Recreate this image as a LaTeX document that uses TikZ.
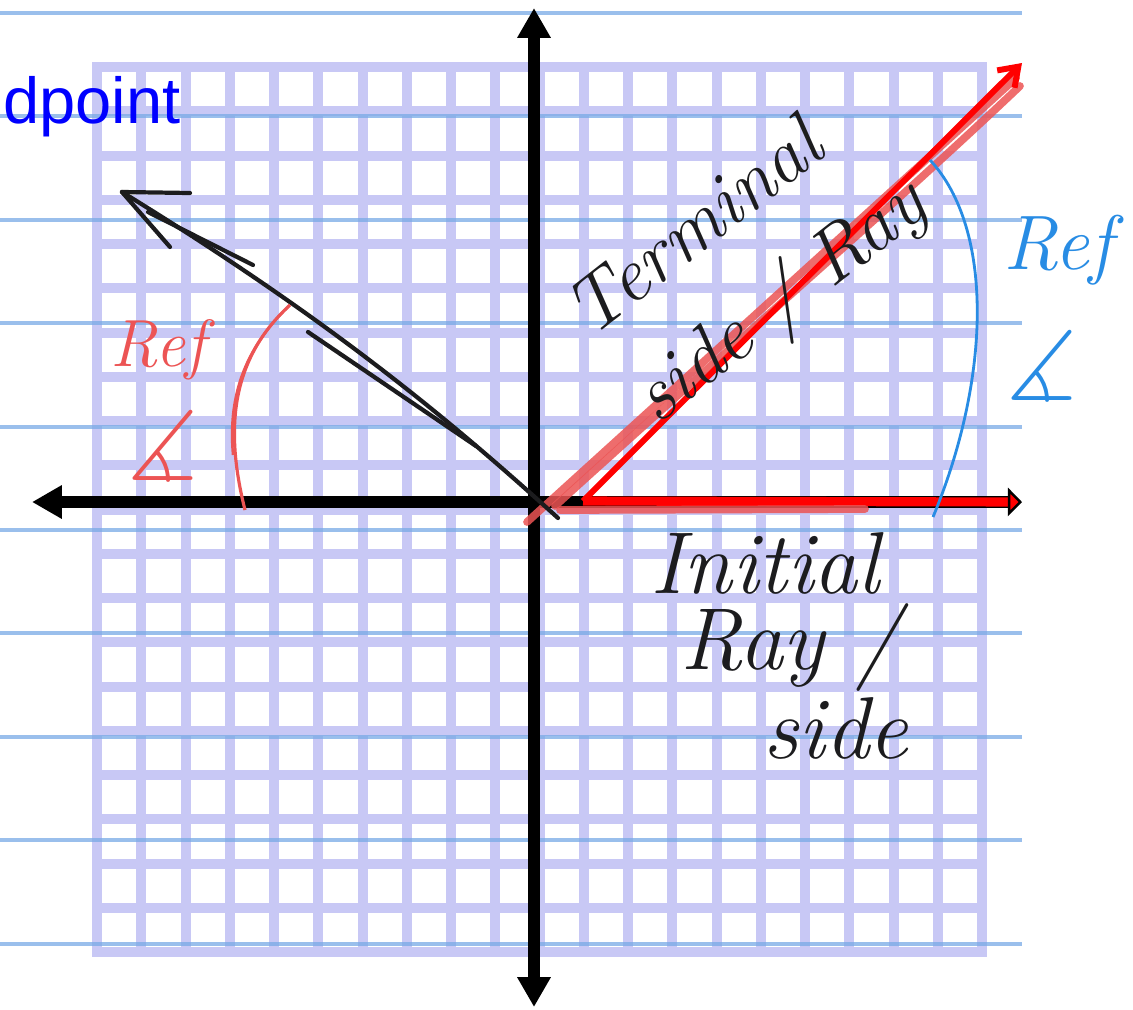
\documentclass[tikz,border=0pt]{standalone}
\usepackage{fontspec}
\usepackage{amssymb}
\newfontfamily\textosans{Liberation Sans}
\usetikzlibrary{arrows.meta}

\definecolor{lavanda}{RGB}{200,200,245}
\definecolor{pautaazul}{RGB}{120,170,230}
\definecolor{salmao}{RGB}{236,84,84}
\definecolor{azulref}{RGB}{40,140,228}
\definecolor{tinta}{RGB}{28,28,30}

\begin{document}
\begin{tikzpicture}[
    x=0.02cm, y=-0.02cm,
    >=Latex,
    pauta/.style={draw=pautaazul, line width=2.2pt, opacity=0.75},
    eixo/.style={draw=black, line width=6.8pt},
    ponta/.tip={Triangle[length=17pt, width=18pt]},
    traco/.style={draw=tinta, line width=2.4pt, line cap=round},
    marca/.style={draw=salmao, line width=4.4pt, opacity=0.85, line cap=round},
    mao/.style={font=\fontsize{44}{48}\selectfont\itshape, text=tinta, inner sep=0pt},
    maior/.style={mao, font=\fontsize{50}{54}\selectfont\itshape},
    angulo/.style={inner sep=0pt, font=\fontsize{56}{60}\selectfont}
]

    \useasboundingbox (0,0) rectangle (1133,1009);

    % Papel quadriculado
    \fill[lavanda] (92,62) rectangle (987,957);
    \foreach \i in {0,...,19}
        \foreach \j in {0,...,19}
            \fill[white] ({102+44.25*\i},{72+44.25*\j}) rectangle +(34.25,34.25);

    % Linhas do caderno
    \foreach \k in {0,...,9}
        \draw[pauta] (0,{13+103.4*\k}) -- (1022,{13+103.4*\k});

    % Pontos de referencia
    \coordinate (O) at (534,502);
    \coordinate (esq) at (32,502);
    \coordinate (dirEixo) at (1012,502);
    \coordinate (topo) at (534,8);
    \coordinate (base) at (534,1007);
    \coordinate (ini) at (583,501);
    \coordinate (X) at (1022,502);
    \coordinate (T) at (1022,63);
    \coordinate (Q) at (122,192);
    \coordinate (fimQ) at (558,518);

    % Eixos
    \draw[eixo, ponta-] (esq) -- (dirEixo);
    \draw[eixo, ponta-ponta] (topo) -- (base);

    % Lado inicial e lado terminal
    \draw[red, line width=5.2pt, -{Triangle[length=8pt, width=16pt, color=black, fill=red, line width=1.4pt]}] (ini) -- (X);
    \draw[marca] (560,510) -- (865,509);
    \draw[marca] (527,522) -- (1016,78);
    \draw[marca] (555,506) .. controls (760,320) and (900,200) .. (1020,86);
    \draw[red, line width=3.4pt, -{Straight Barb[length=10pt, width=14pt]}] (ini) -- (T);

    % Raio do segundo quadrante
    \draw[traco] (Q) .. controls (330,320) and (450,420) .. (fimQ);
    \draw[traco] (148,212) -- (253,265);
    \draw[traco] (308,332) -- (476,446);
    \draw[traco] (Q) -- (190,193);
    \draw[traco] (Q) -- (170,247);

    % Arcos dos angulos de referencia
    \draw[draw=salmao, line width=1.8pt] (245,510) .. controls (225,430) and (230,360) .. (290,305);
    \draw[draw=salmao, line width=1.4pt] (290,305) .. controls (242,350) and (228,400) .. (233,455);
    \draw[draw=azulref, line width=1.6pt] (933,517) .. controls (990,380) and (995,230) .. (930,160);

    % Textos
    \node[font=\textosans\fontsize{37}{40}\selectfont, text=blue, anchor=base west, inner sep=0pt] (dpoint) at (3,123) {dpoint};
    \node[mao, rotate=38, align=left, font=\fontsize{44}{62}\selectfont\itshape] (terminal) at (750,262) {Terminal\\side / Ray};
    \node[maior] (inicial) at (765,563) {Initial};
    \node[maior] (raioI) at (790,648) {Ray /};
    \node[maior] (ladoI) at (836,728) {side};
    \node[mao, text=salmao, font=\fontsize{38}{40}\selectfont\itshape] (refE) at (158,350) {Ref};
    \node[angulo, text=salmao] (angE) at (163,446) {$\measuredangle$};
    \node[mao, text=azulref] (refD) at (1058,250) {Ref};
    \node[angulo, text=azulref] (angD) at (1042,366) {$\measuredangle$};

\end{tikzpicture}
\end{document}
